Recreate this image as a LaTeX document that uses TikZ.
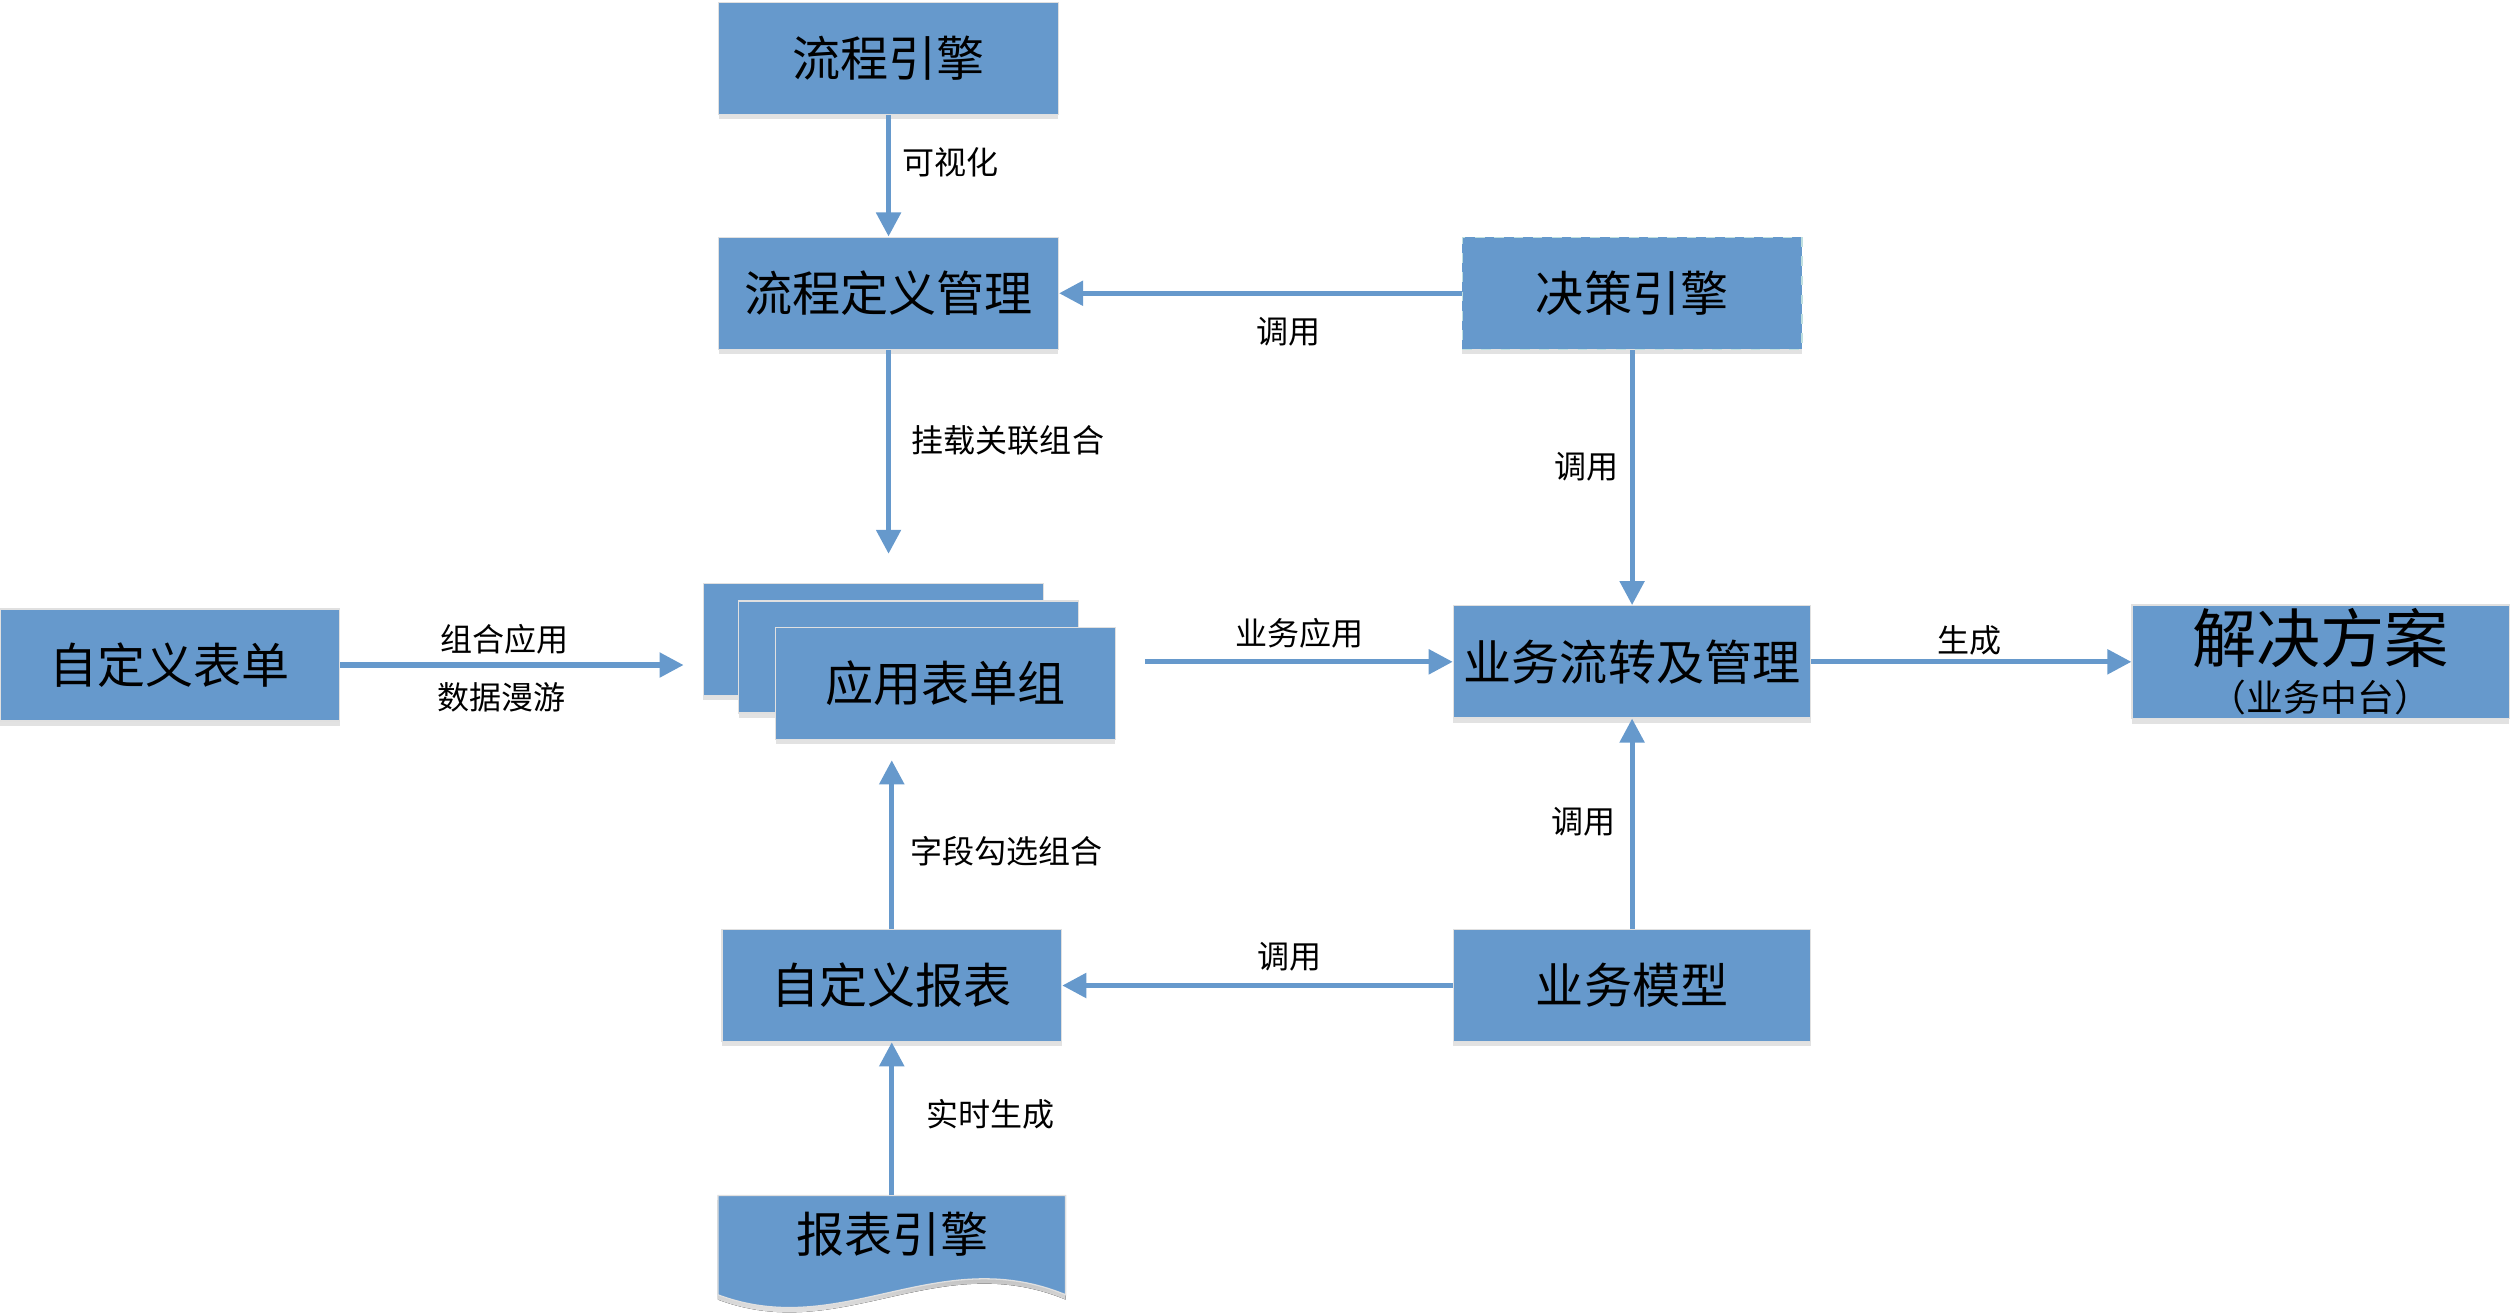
\documentclass[tikz,border=0pt]{standalone}
\usepackage{fontspec}
\setmainfont{Noto Sans CJK SC}
\usetikzlibrary{arrows.meta,shadows}
\definecolor{boxblue}{RGB}{102,153,204}
\definecolor{shade}{RGB}{226,226,226}
\begin{document}
\begin{tikzpicture}[x=0.5pt, y=-0.5pt,
		box/.style={rectangle, fill=boxblue, draw=black!12, line width=0.4pt, inner sep=0pt, minimum width=106pt, minimum height=35pt, font=\fontsize{15}{18}\selectfont, drop shadow={shadow xshift=0pt, shadow yshift=-1.5pt, fill=shade, opacity=1}},
		widebox/.style={box, minimum width=111.5pt},
		conn/.style={boxblue, line width=1.6pt, -{Triangle[length=7.5pt, width=7.5pt]}},
		lbl/.style={font=\fontsize{10}{12}\selectfont, inner sep=0pt}]
		\useasboundingbox (0,0) rectangle (1567,821);
		\node[box] (engine) at (554.5,36.5) {流程引擎};
		\node[box] (defmgr) at (554.5,183) {流程定义管理};
		\node[box, draw=white!75!teal, dashed] (decision) at (1018.5,183) {决策引擎};
		\node[box] (form) at (106,415) {自定义表单};
		\node[box] (formback) at (545,399) {};
		\node[box] (formmid) at (567,410) {};
		\node[box] (formfront) at (590,426.5) {应用表单组};
		\node[minimum width=143.5pt, minimum height=64pt, inner sep=0pt] (forms) at (570.5,410) {};
		\node[widebox] (flow) at (1018.5,413) {业务流转及管理};
		\node[box, minimum width=117.75pt, minimum height=35.5pt] (solution) at (1448.25,413) {};
		\node[font=\fontsize{20}{22}\selectfont, inner sep=0pt] (soltitle) at (1448,398) {解决方案};
		\node[font=\fontsize{11.5}{14}\selectfont, inner sep=0pt] (solsub) at (1448,435) {（业务中台）};
		\node[box] (report) at (556.5,615) {自定义报表};
		\node[widebox] (model) at (1018.5,615) {业务模型};
		\fill[shade] (448,749) -- (665,749) -- (665,811) .. controls (585,778) and (525,840) .. (448,811) -- cycle;
		\filldraw[fill=boxblue, draw=black!12, line width=0.4pt] (448,746) -- (665,746) -- (665,808) .. controls (585,775) and (525,837) .. (448,808) -- cycle;
		\node[font=\fontsize{15}{18}\selectfont, inner sep=0pt] (repengine) at (557,770) {报表引擎};
		\coordinate (reptop) at (556.5,746);
		\draw[conn] (engine) -- (defmgr);
		\draw[conn] (decision) -- (defmgr);
		\draw[conn] (defmgr.south) -- (defmgr.south |- forms.north);
		\draw[conn] (decision) -- (flow);
		\draw[conn] (form) -- (form -| forms.west);
		\draw[conn] (forms.east |- flow) -- (flow);
		\draw[conn] (flow) -- (solution);
		\draw[conn] (model) -- (flow);
		\draw[conn] (model) -- (report);
		\draw[conn] (report) -- (report |- forms.south);
		\draw[conn] (reptop) -- (report);
		\node[lbl] (lblview) at (593,101.5) {可视化};
		\node[lbl] (lblcallup) at (804,207) {调用};
		\node[lbl] (lblmount) at (629,275) {挂载关联组合};
		\node[lbl] (lblcalldec) at (990,291) {调用};
		\node[lbl] (lblcombine) at (315,399) {组合应用};
		\node[lbl] (lblroam) at (313,435) {数据漫游};
		\node[lbl] (lblapply) at (811,395) {业务应用};
		\node[lbl] (lblgen) at (1229,399.5) {生成};
		\node[lbl] (lblcallmodel) at (988,513) {调用};
		\node[lbl] (lblcalldown) at (805,597) {调用};
		\node[lbl] (lblfield) at (628,531) {字段勾选组合};
		\node[lbl] (lblreal) at (618,695.5) {实时生成};
	\end{tikzpicture}
\end{document}
